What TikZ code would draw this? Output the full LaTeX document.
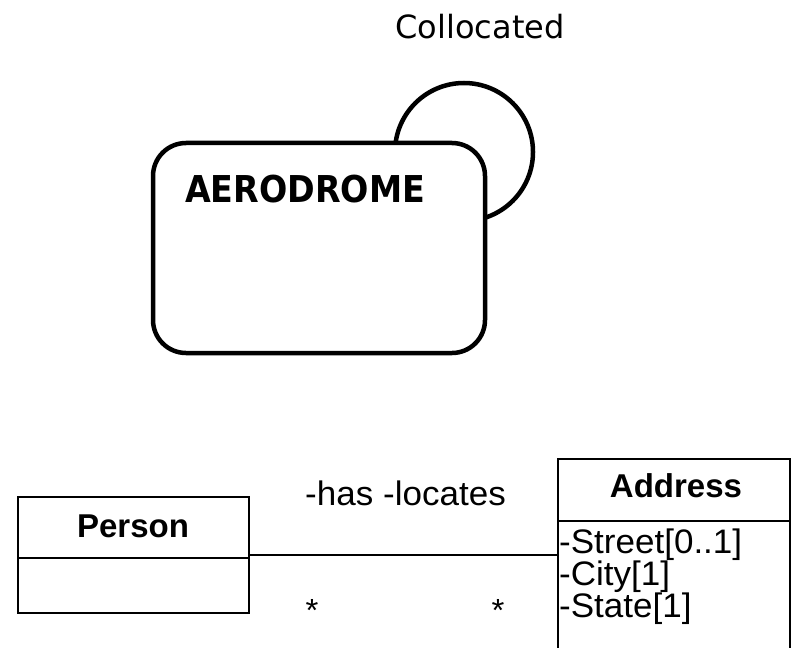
\documentclass[tikz,border=0pt]{standalone}
\usepackage{fontspec}
\setmainfont{Liberation Sans}
\newfontfamily\lsreg{Liberation Sans}[FakeStretch=1.03]
\newfontfamily\dvsans{DejaVu Sans}
\newfontfamily\dvbold{DejaVu Sans Bold}[FakeStretch=0.9]
\begin{document}
\begin{tikzpicture}[x=1pt,y=-1pt,
  umlbox/.style={draw,line width=2.5pt},
  txt/.style={inner sep=0pt,anchor=base west,font=\lsreg\fontsize{34}{34}\selectfont},
  boldtxt/.style={inner sep=0pt,anchor=base,font=\bfseries\fontsize{33}{33}\selectfont}]
\useasboundingbox (0,0) rectangle (794,647);
% top part
\node[inner sep=0pt,anchor=base,font=\dvsans\fontsize{32}{32}\selectfont] (coll) at (480,39) {Collocated};
\draw[line width=4.5pt] (464,152) circle (69);
\draw[line width=4.5pt,fill=white,rounded corners=33pt] (153,143) rectangle (485,353);
\node[inner sep=0pt,anchor=base west,font=\dvbold\fontsize{37}{37}\selectfont] (aero) at (185,202) {AERODROME};
% Person class
\draw[umlbox] (18,497) rectangle (249,613);
\draw[umlbox] (18,558) -- (249,558);
\node[boldtxt] (person) at (133,537) {Person};
\coordinate (pr) at (249,555);
% Address class
\draw[umlbox] (558,459) rectangle (790,680);
\draw[umlbox] (558,521) -- (790,521);
\node[boldtxt] (address) at (676,497) {Address};
\coordinate (al) at (558,555);
\node[txt] (a1) at (559,553) {-Street[0..1]};
\node[txt] (a2) at (559,585) {-City[1]};
\node[txt] (a3) at (559,617) {-State[1]};
% association
\draw[line width=1.5pt] (pr) -- (al);
\node[txt] (has) at (305,505) {-has};
\node[txt] (loc) at (383,505) {-locates};
\node[inner sep=0pt,font=\lsreg\fontsize{32}{32}\selectfont] (s1) at (312,610) {*};
\node[inner sep=0pt,font=\lsreg\fontsize{32}{32}\selectfont] (s2) at (498,610) {*};
\end{tikzpicture}
\end{document}
